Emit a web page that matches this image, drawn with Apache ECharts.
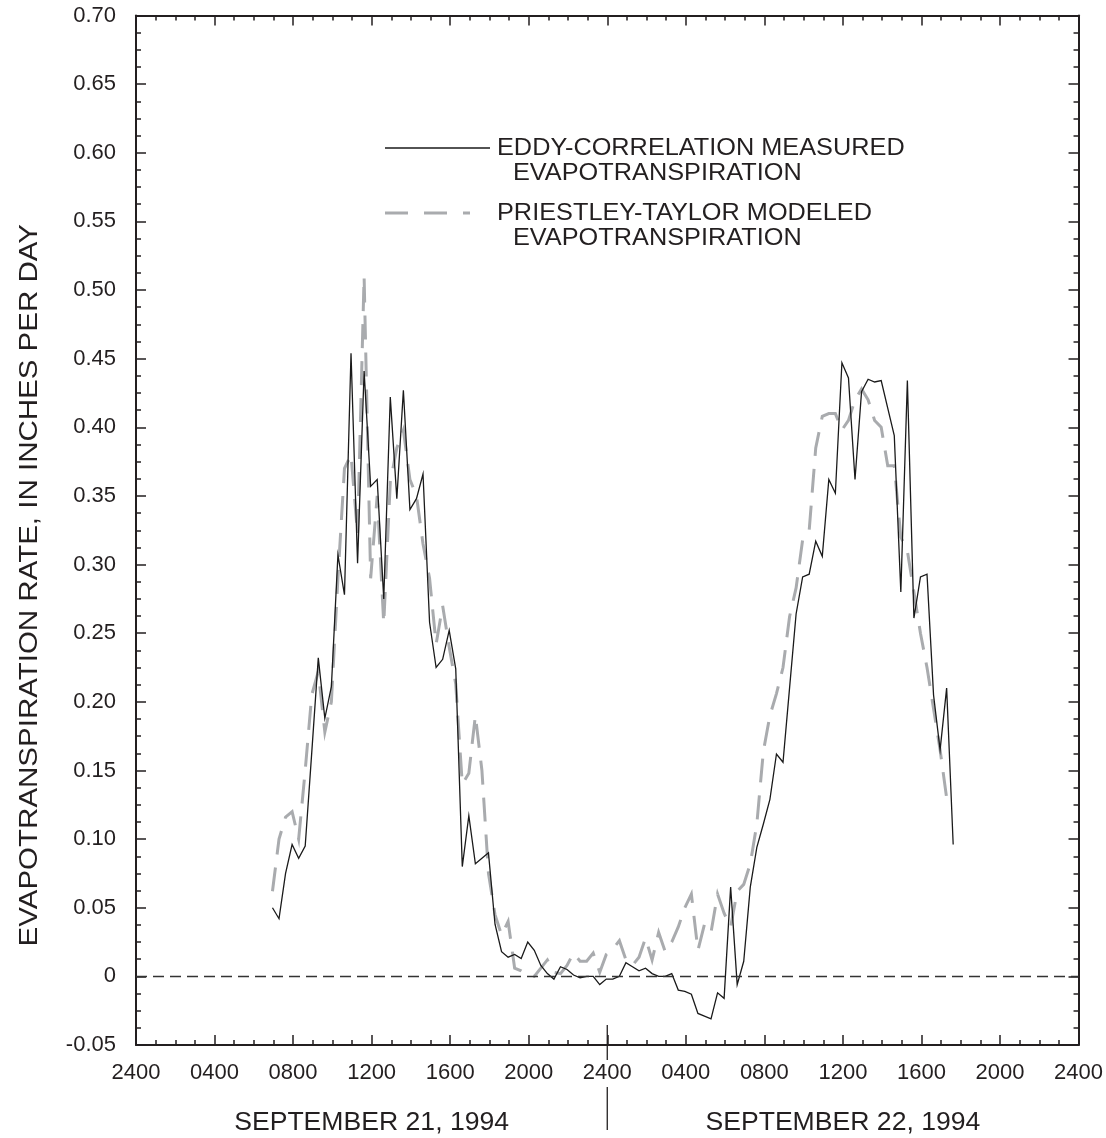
<!DOCTYPE html>
<html><head><meta charset="utf-8">
<script src="https://cdn.jsdelivr.net/npm/echarts@6/dist/echarts.min.js"></script>
<style>html,body{margin:0;padding:0;background:#fff}#chart{width:1106px;height:1138px}</style>
</head><body><div id="chart"></div>
<script>
// Sampling grid: hours after midnight starting September 21, 1994, 20-minute steps
const START_HOUR = 6.95;
const STEP_HOURS = 1 / 3;

const measuredName = 'EDDY-CORRELATION MEASURED EVAPOTRANSPIRATION';
const modeledName = 'PRIESTLEY-TAYLOR MODELED EVAPOTRANSPIRATION';

const measured = [
  0.050,0.042,0.075,0.096,0.086,0.095,0.163,0.232,0.188,0.211,
  0.307,0.278,0.454,0.301,0.441,0.357,0.362,0.275,0.422,0.348,
  0.427,0.340,0.348,0.366,0.258,0.225,0.231,0.252,0.224,0.080,
  0.117,0.082,0.086,0.090,0.038,0.018,0.014,0.016,0.013,0.025,
  0.019,0.008,0.002,-0.002,0.007,0.005,0.001,-0.001,0.000,0.000,
  -0.006,-0.002,-0.002,0.000,0.010,0.007,0.004,0.006,0.002,0.000,
  0.000,0.002,-0.010,-0.011,-0.013,-0.027,-0.029,-0.031,-0.012,-0.016,
  0.065,-0.006,0.011,0.065,0.094,0.111,0.129,0.162,0.156,0.210,
  0.264,0.291,0.293,0.317,0.306,0.362,0.352,0.447,0.436,0.362,
  0.426,0.435,0.433,0.434,0.414,0.394,0.280,0.434,0.261,0.291,
  0.293,0.205,0.165,0.210,0.096
];

const modeled = [
  0.062,0.100,0.116,0.120,0.100,0.150,0.205,0.222,0.178,0.200,
  0.290,0.370,0.380,0.322,0.510,0.290,0.350,0.257,0.360,0.385,
  0.398,0.362,0.350,0.315,0.290,0.242,0.270,0.240,0.213,0.140,
  0.148,0.190,0.150,0.075,0.045,0.030,0.040,0.006,0.004,0.001,
  0.000,0.006,0.012,0.003,0.002,0.008,0.017,0.011,0.011,0.017,
  0.003,0.016,0.020,0.026,0.012,0.008,0.014,0.028,0.012,0.032,
  0.018,0.025,0.036,0.050,0.060,0.019,0.038,0.032,0.060,0.046,
  0.036,0.062,0.067,0.082,0.111,0.164,0.190,0.206,0.225,0.262,
  0.283,0.318,0.325,0.385,0.408,0.410,0.410,0.398,0.405,0.420,
  0.428,0.420,0.405,0.400,0.372,0.372,0.320,0.310,0.280,0.250,
  0.225,0.195,0.165,0.130,0.130
];

const dayLabels = ['SEPTEMBER 21, 1994', 'SEPTEMBER 22, 1994'];
const dayLabelHours = [12, 36];
const dayBoundaryHour = 24;
const yTitle = 'EVAPOTRANSPIRATION RATE, IN INCHES PER DAY';

const X_MIN = 0, X_MAX = 48, X_INTERVAL = 4;
const Y_MIN = -0.05, Y_MAX = 0.70, Y_INTERVAL = 0.05;

const toPairs = arr => arr.map((v, i) => [START_HOUR + i * STEP_HOURS, v]);

const INK = '#231f20';
const FONT = '"Liberation Sans", Arial, Helvetica, sans-serif';

const chart = echarts.init(document.getElementById('chart'), null, {renderer: 'canvas'});

const xFmt = v => { const h = Math.round(v) % 24; return (h === 0 ? '24' : String(h).padStart(2, '0')) + '00'; };
const yFmt = v => Math.abs(v) < 1e-9 ? '0' : v.toFixed(2);

const baseX = {
  type: 'value', min: X_MIN, max: X_MAX, interval: X_INTERVAL,
  axisLine: {show: true, onZero: false, lineStyle: {color: INK, width: 2}},
  axisTick: {show: true, inside: true, length: 10, lineStyle: {color: INK, width: 1.5}},
  minorTick: {show: true, splitNumber: 4, length: 5, lineStyle: {color: INK, width: 1.5}},
  splitLine: {show: false}, minorSplitLine: {show: false}
};
const baseY = {
  type: 'value', min: Y_MIN, max: Y_MAX, interval: Y_INTERVAL,
  axisLine: {show: true, onZero: false, lineStyle: {color: INK, width: 2}},
  axisTick: {show: true, inside: true, length: 10, lineStyle: {color: INK, width: 1.5}},
  minorTick: {show: true, splitNumber: 4, length: 5, lineStyle: {color: INK, width: 1.5}},
  splitLine: {show: false}, minorSplitLine: {show: false}
};

chart.setOption({
  animation: false,
  backgroundColor: '#ffffff',
  grid: {left: 136, right: 27, top: 15.5, bottom: 93, containLabel: false},
  xAxis: [
    Object.assign({}, baseX, {position: 'bottom',
      axisLabel: {show: true, formatter: xFmt, margin: 17, color: INK, fontSize: 22, fontFamily: FONT}}),
    Object.assign({}, baseX, {position: 'top', axisLabel: {show: false}})
  ],
  yAxis: [
    Object.assign({}, baseY, {position: 'left',
      axisLabel: {show: true, formatter: yFmt, margin: 20, color: INK, fontSize: 22, fontFamily: FONT, padding: [8, 0, 0, 0]}}),
    Object.assign({}, baseY, {position: 'right', axisLabel: {show: false}})
  ],
  series: [
    {
      name: modeledName, type: 'line', data: toPairs(modeled), xAxisIndex: 0, yAxisIndex: 0,
      showSymbol: false, symbol: 'none', z: 2,
      lineStyle: {color: '#a9abae', width: 3, type: [24, 13], cap: 'butt', join: 'miter'}
    },
    {
      name: measuredName, type: 'line', data: toPairs(measured), xAxisIndex: 0, yAxisIndex: 0,
      showSymbol: false, symbol: 'none', z: 3,
      lineStyle: {color: '#1a1a1a', width: 1.3, join: 'miter'},
      markLine: {
        silent: true, symbol: ['none', 'none'], label: {show: false},
        lineStyle: {color: '#333333', width: 1.4, type: [11, 6]},
        data: [{yAxis: 0}]
      }
    }
  ]
});

// decorations positioned through the axes
const p = (h, v) => chart.convertToPixel({xAxisIndex: 0, yAxisIndex: 0}, [h, v]);
const bottomY = p(0, Y_MIN)[1];
const divX = p(dayBoundaryHour, 0)[0];
const plotMidY = (p(0, Y_MAX)[1] + bottomY) / 2;

const graphics = [];
graphics.push({type: 'line', silent: true, shape: {x1: divX, y1: bottomY - 20, x2: divX, y2: bottomY + 15}, style: {stroke: INK, lineWidth: 1.3}});
graphics.push({type: 'line', silent: true, shape: {x1: divX, y1: bottomY + 42, x2: divX, y2: bottomY + 85}, style: {stroke: INK, lineWidth: 1.3}});
dayLabels.forEach((t, i) => {
  graphics.push({type: 'text', silent: true, x: p(dayLabelHours[i], 0)[0], y: bottomY + 78,
    style: {text: t, font: '26.6px ' + FONT, fill: INK, align: 'center', verticalAlign: 'middle'}});
});
graphics.push({type: 'text', silent: true, x: 30, y: plotMidY + 55, rotation: Math.PI / 2, scaleX: 1.18,
  style: {text: yTitle, font: '25px ' + FONT, fill: INK, align: 'center', verticalAlign: 'middle'}});

// legend
const legendItems = [
  {lines: ['EDDY-CORRELATION MEASURED', 'EVAPOTRANSPIRATION'], y: 148, dash: null, color: '#1a1a1a', width: 1.3, x2: 490},
  {lines: ['PRIESTLEY-TAYLOR MODELED', 'EVAPOTRANSPIRATION'], y: 213, dash: [23, 16], color: '#a9abae', width: 3, x2: 470}
];
legendItems.forEach(it => {
  graphics.push({type: 'line', silent: true, shape: {x1: 385, y1: it.y, x2: it.x2, y2: it.y},
    style: {stroke: it.color, lineWidth: it.width, lineDash: it.dash || null}});
  graphics.push({type: 'text', silent: true, x: 497, y: it.y + 1, scaleX: 1.1,
    style: {text: it.lines[0], font: '23px ' + FONT, fill: INK, align: 'left', verticalAlign: 'middle'}});
  graphics.push({type: 'text', silent: true, x: 513, y: it.y + 26, scaleX: 1.1,
    style: {text: it.lines[1], font: '23px ' + FONT, fill: INK, align: 'left', verticalAlign: 'middle'}});
});

chart.setOption({graphic: graphics});
</script>
</body></html>
